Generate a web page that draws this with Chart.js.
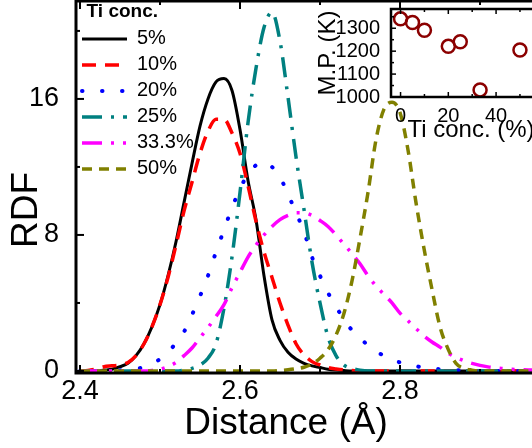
<!DOCTYPE html>
<html>
<head>
<meta charset="utf-8">
<script src="https://cdn.jsdelivr.net/npm/chart.js@4.4.1/dist/chart.umd.min.js"></script>
<style>
  html, body { margin: 0; padding: 0; background: #fff; overflow: hidden; }
  #wrap { position: relative; width: 532px; height: 448px; overflow: hidden; }
  #main { position: absolute; left: 0; top: 0; }
  #inset { position: absolute; left: 300px; top: 0; }
</style>
</head>
<body>
<div id="wrap">
  <canvas id="main" width="560" height="448"></canvas>
  <canvas id="inset" width="260" height="145"></canvas>
</div>
<script>
// RDF curves
const distance = [2.40, 2.41, 2.42, 2.43, 2.44, 2.45, 2.46, 2.47, 2.48, 2.49,
  2.50, 2.51, 2.52, 2.53, 2.54, 2.55, 2.56, 2.57, 2.58, 2.59,
  2.60, 2.61, 2.62, 2.63, 2.64, 2.65, 2.66, 2.67, 2.68, 2.69,
  2.70, 2.71, 2.72, 2.73, 2.74, 2.75, 2.76, 2.77, 2.78, 2.79,
  2.80, 2.81, 2.82, 2.83, 2.84, 2.85, 2.86, 2.87, 2.88, 2.89,
  2.90, 2.91, 2.92, 2.93, 2.94, 2.95, 2.96, 2.97];

const rdf5 = [0, 0, 0, 0.05, 0.1, 0.25, 0.45, 0.9, 1.6, 2.6,
  3.9, 5.6, 7.6, 9.9, 12.2, 14.4, 16.0, 17.0, 17.2, 16.5,
  14.2, 11.2, 8.9, 5.6, 3.0, 1.8, 1.1, 0.7, 0.45, 0.3,
  0.2, 0.1, 0.05, 0.02, 0, 0, 0, 0, 0, 0,
  0, 0, 0, 0, 0, 0, 0, 0, 0, 0,
  0, 0, 0, 0, 0, 0, 0, 0];

const rdf10 = [0, 0.03, 0.12, 0.25, 0.3, 0.35, 0.5, 0.9, 1.6, 2.6,
  3.9, 5.5, 7.4, 9.4, 11.1, 12.8, 14.1, 14.8, 14.8, 14.0,
  12.8, 10.9, 8.8, 7.0, 5.5, 4.0, 2.7, 1.6, 0.95, 0.55,
  0.35, 0.2, 0.12, 0.06, 0.03, 0, 0, 0, 0, 0,
  0, 0, 0, 0, 0, 0, 0, 0, 0, 0,
  0, 0, 0, 0, 0, 0, 0, 0];

const rdf20 = [0, 0, 0, 0, 0.02, 0.04, 0.08, 0.13, 0.22, 0.4,
  0.7, 1.1, 1.65, 2.3, 3.3, 4.4, 5.6, 7.0, 8.3, 9.6,
  10.7, 11.6, 12.1, 12.3, 12.0, 11.4, 10.4, 9.3, 8.2, 6.7,
  5.6, 4.6, 3.8, 3.0, 2.4, 1.95, 1.5, 1.15, 0.9, 0.65,
  0.5, 0.37, 0.28, 0.2, 0.14, 0.1, 0.07, 0.05, 0.03, 0.02,
  0, 0, 0, 0, 0, 0, 0, 0];

const rdf25 = [0, 0, 0, 0, 0, 0, 0, 0, 0, 0,
  0, 0, 0, 0.05, 0.15, 0.35, 0.75, 1.6, 3.7, 6.7,
  10.5, 14.6, 17.8, 20.2, 21.1, 19.4, 16.1, 12.6, 9.5, 6.4,
  4.0, 2.0, 0.9, 0.35, 0.15, 0.05, 0, 0, 0, 0,
  0, 0, 0, 0, 0, 0, 0, 0, 0, 0,
  0, 0, 0, 0, 0, 0, 0, 0];

const rdf33 = [0, 0, 0, 0, 0, 0, 0, 0, 0, 0.03,
  0.1, 0.25, 0.5, 0.9, 1.35, 1.95, 2.55, 3.2, 3.9, 4.9,
  5.8, 6.7, 7.4, 8.0, 8.5, 8.9, 9.15, 9.3, 9.3, 9.15,
  8.85, 8.5, 8.0, 7.45, 6.9, 6.3, 5.6, 5.0, 4.5, 4.0,
  3.4, 2.95, 2.5, 2.05, 1.7, 1.4, 1.05, 0.8, 0.6, 0.45,
  0.33, 0.24, 0.18, 0.14, 0.1, 0.08, 0.06, 0.05];

const rdf50 = [0, 0, 0, 0, 0, 0, 0, 0, 0, 0,
  0, 0, 0, 0, 0, 0, 0, 0, 0, 0,
  0, 0, 0, 0, 0, 0.03, 0.07, 0.13, 0.22, 0.4,
  0.75, 1.25, 2.1, 3.4, 5.3, 7.8, 10.5, 13.6, 15.4, 15.8,
  15.2, 13.0, 9.9, 7.2, 4.8, 2.6, 1.3, 0.45, 0.15, 0.05,
  0, 0, 0, 0, 0, 0, 0, 0];

const seriesLabels = ['5%', '10%', '20%', '25%', '33.3%', '50%'];

const xTickValues = [2.4, 2.5, 2.6, 2.7, 2.8, 2.9, 3.0];
const xTickLabels = ['2.4', '', '2.6', '', '2.8', '', ''];
const yTickValues = [0, 4, 8, 12, 16, 20];
const yTickLabels = ['0', '', '8', '', '16', ''];

// inset: melting point vs Ti concentration
const tiConc = [0, 5, 10, 20, 25, 33.3, 50];
const meltingPoint = [1341, 1325, 1291, 1221, 1241, 1031, 1205];

const insetXTicks = [0, 10, 20, 30, 40, 50, 60];
const insetXLabels = ['0', '', '20', '', '40', '', ''];
const insetYTicks = [1000, 1050, 1100, 1150, 1200, 1250, 1300, 1350];
const insetYLabels = ['1000', '', '1100', '', '1200', '', '1300', ''];

// line styles
const seriesColors = ['#000000', '#ff0000', '#0000ff', '#008080', '#ff00ff', '#808000'];
const seriesWidths = [3, 3.5, 4, 3.5, 3.5, 3.5];
const seriesDashes = [[], [14, 9], [0.5, 19.5], [20, 9, 3, 9], [20, 9, 3, 9, 3, 9], [10, 7]];
const seriesCaps = ['butt', 'butt', 'round', 'butt', 'butt', 'butt'];

const FONT = "'Liberation Sans', Arial, sans-serif";
Chart.defaults.font.family = FONT;
Chart.defaults.color = '#000';
Chart.defaults.animation = false;

// frame with inward ticks on all four sides
function frameTicks(cfg) {
  return {
    id: 'frameTicks',
    beforeDraw(chart) {
      if (!cfg.fill) return;
      const a = chart.chartArea, ctx = chart.ctx;
      ctx.save();
      ctx.fillStyle = cfg.fill;
      ctx.fillRect(a.left, a.top, a.right - a.left, a.bottom - a.top);
      ctx.restore();
    },
    afterDatasetsDraw(chart) {
      const { ctx, chartArea: a, scales } = chart;
      const seg = (x1, y1, x2, y2) => {
        ctx.beginPath(); ctx.moveTo(x1, y1); ctx.lineTo(x2, y2); ctx.stroke();
      };
      ctx.save();
      ctx.strokeStyle = '#000';
      ctx.lineWidth = cfg.tickWidth;
      scales.x.ticks.forEach(t => {
        const p = scales.x.getPixelForValue(t.value);
        const len = t.label ? cfg.major : cfg.minor;
        seg(p, a.bottom, p, a.bottom - len);
        seg(p, a.top, p, a.top + len);
      });
      scales.y.ticks.forEach(t => {
        const p = scales.y.getPixelForValue(t.value);
        const len = t.label ? cfg.major : cfg.minor;
        seg(a.left, p, a.left + len, p);
        seg(a.right, p, a.right - len, p);
      });
      ctx.lineWidth = cfg.frameWidth;
      ctx.strokeRect(a.left, a.top, a.right - a.left, a.bottom - a.top);
      ctx.restore();
    }
  };
}

// axis titles that sit off-centre in the original
function freeText(items) {
  return {
    id: 'freeText',
    afterDraw(chart) {
      const ctx = chart.ctx;
      items.forEach(it => {
        ctx.save();
        ctx.translate(it.x, it.y);
        ctx.rotate(it.rotation || 0);
        ctx.font = it.font;
        ctx.fillStyle = '#000';
        ctx.textAlign = 'center';
        ctx.textBaseline = 'middle';
        ctx.fillText(it.text, 0, 0);
        ctx.restore();
      });
    }
  };
}

const fixSize = (prop, size) => scale => {
  scale[prop] = size;
  scale.paddingLeft = scale.paddingRight = scale.paddingTop = scale.paddingBottom = 0;
};

const rdfSeries = [rdf5, rdf10, rdf20, rdf25, rdf33, rdf50];

new Chart(document.getElementById('main'), {
  type: 'line',
  data: {
    datasets: seriesLabels.map((label, k) => ({
      label,
      data: distance.map((x, i) => ({ x, y: rdfSeries[k][i] })),
      borderColor: seriesColors[k],
      backgroundColor: seriesColors[k],
      borderWidth: seriesWidths[k],
      borderDash: seriesDashes[k],
      borderCapStyle: seriesCaps[k],
      pointRadius: 0,
      fill: false,
      cubicInterpolationMode: 'monotone',
      order: seriesLabels.length - k
    }))
  },
  options: {
    responsive: false,
    animation: false,
    layout: { padding: { top: 1, left: 0, right: 0, bottom: 0 } },
    scales: {
      x: {
        type: 'linear',
        position: 'bottom',
        min: 2.395,
        max: 3.0,
        bounds: 'data',
        afterBuildTicks: s => { s.ticks = xTickValues.map(v => ({ value: v })); },
        afterFit: fixSize('height', 75),
        grid: { display: false },
        border: { display: false },
        ticks: {
          autoSkip: false,
          maxRotation: 0,
          padding: -6,
          font: { size: 27 },
          color: '#000',
          callback: v => xTickLabels[xTickValues.indexOf(v)] ?? ''
        }
      },
      y: {
        type: 'linear',
        position: 'left',
        min: -0.12,
        max: 21.76,
        bounds: 'data',
        afterBuildTicks: s => { s.ticks = yTickValues.map(v => ({ value: v })); },
        afterFit: fixSize('width', 76),
        grid: { display: false },
        border: { display: false },
        ticks: {
          autoSkip: false,
          padding: 9,
          font: { size: 27 },
          color: '#000',
          callback: v => yTickLabels[yTickValues.indexOf(v)] ?? ''
        }
      }
    },
    plugins: {
      tooltip: { enabled: false },
      legend: {
        position: 'chartArea',
        align: 'start',
        title: {
          display: true,
          text: '  Ti conc.',
          position: 'start',
          color: '#000',
          font: { size: 19, weight: 'bold', lineHeight: 1.1 },
          padding: { top: 2, bottom: 0 }
        },
        labels: {
          usePointStyle: true,
          pointStyle: 'line',
          pointStyleWidth: 45,
          padding: 6,
          color: '#000',
          font: { size: 20 },
          generateLabels: chart => chart.data.datasets.map((ds, i) => ({
            text: ds.label,
            datasetIndex: i,
            hidden: false,
            strokeStyle: ds.borderColor,
            fillStyle: ds.borderColor,
            lineWidth: ds.borderWidth,
            lineDash: ds.borderDash,
            lineCap: ds.borderCapStyle,
            pointStyle: 'line',
            fontColor: '#000'
          }))
        }
      }
    }
  },
  plugins: [
    frameTicks({ major: 8, minor: 4, tickWidth: 2, frameWidth: 3 }),
    freeText([
      { text: 'RDF', x: 27, y: 210, rotation: -Math.PI / 2, font: `37px ${FONT}` },
      { text: 'Distance (Å)', x: 286, y: 424, font: `37px ${FONT}` }
    ])
  ]
});

new Chart(document.getElementById('inset'), {
  type: 'scatter',
  data: {
    datasets: [{
      label: 'M.P.',
      data: tiConc.map((x, i) => ({ x, y: meltingPoint[i] })),
      pointRadius: 6.5,
      pointBorderWidth: 2.5,
      borderColor: '#8b0000',
      backgroundColor: 'rgba(0,0,0,0)'
    }]
  },
  options: {
    responsive: false,
    animation: false,
    layout: { padding: { top: 1, left: 0, right: 0, bottom: 0 } },
    scales: {
      x: {
        type: 'linear',
        min: -4,
        max: 63,
        bounds: 'data',
        afterBuildTicks: s => { s.ticks = insetXTicks.map(v => ({ value: v })); },
        afterFit: fixSize('height', 48),
        grid: { display: false },
        border: { display: false },
        title: {
          display: true,
          text: 'Ti conc. (%)',
          color: '#000',
          font: { size: 24 },
          padding: { top: 0, bottom: 0 }
        },
        ticks: {
          autoSkip: false,
          maxRotation: 0,
          padding: -1,
          font: { size: 20 },
          color: '#000',
          callback: v => insetXLabels[insetXTicks.indexOf(v)] ?? ''
        }
      },
      y: {
        type: 'linear',
        min: 1000,
        max: 1384,
        bounds: 'data',
        afterBuildTicks: s => { s.ticks = insetYTicks.map(v => ({ value: v })); },
        afterFit: fixSize('width', 91),
        grid: { display: false },
        border: { display: false },
        title: {
          display: true,
          text: 'M.P. (K)',
          color: '#000',
          font: { size: 24 },
          padding: { top: 14, bottom: 0 }
        },
        ticks: {
          autoSkip: false,
          padding: 3,
          font: { size: 20 },
          color: '#000',
          callback: v => insetYLabels[insetYTicks.indexOf(v)] ?? ''
        }
      }
    },
    plugins: {
      legend: { display: false },
      tooltip: { enabled: false }
    }
  },
  plugins: [frameTicks({ major: 5, minor: 3, tickWidth: 1.5, frameWidth: 2.5, fill: '#fff' })]
});
</script>
</body>
</html>
